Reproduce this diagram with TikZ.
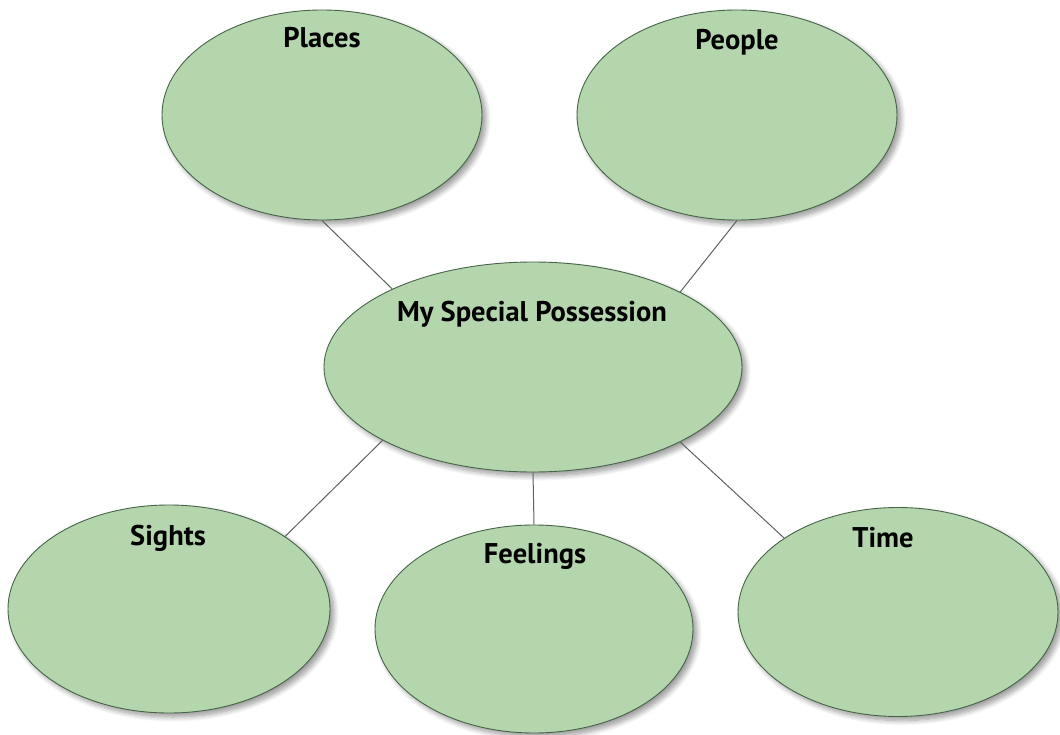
\documentclass[tikz,border=0pt]{standalone}
\usepackage{fontspec}
\setmainfont{PT Sans}
\usetikzlibrary{shapes.geometric,shadows.blur}
\definecolor{bubblefill}{RGB}{180,214,172}
\definecolor{bubbleline}{RGB}{70,100,72}
\definecolor{linkgray}{RGB}{90,100,94}
\tikzset{
  bubble/.style={ellipse, draw=bubbleline, line width=0.9pt, fill=bubblefill, inner sep=0pt,
    blur shadow={shadow xshift=4pt, shadow yshift=-4pt, shadow blur radius=5pt, shadow blur steps=8, shadow opacity=40}},
  title/.style={font=\fontsize{28.5}{32}\selectfont\bfseries, text=black, anchor=base, inner sep=0pt},
  link/.style={draw=linkgray, line width=1pt}
}
\begin{document}
\begin{tikzpicture}[x=1pt,y=-1pt]
\useasboundingbox (0,0) rectangle (1060,735);
\node[bubble, minimum width=320pt, minimum height=210pt] (places) at (322,115) {};
\node[bubble, minimum width=320pt, minimum height=210pt] (people) at (737,115) {};
\node[bubble, minimum width=418pt, minimum height=210pt] (center) at (533,367) {};
\node[bubble, minimum width=322pt, minimum height=208pt] (sights) at (169,609) {};
\node[bubble, minimum width=318pt, minimum height=208pt] (feelings) at (534,629) {};
\node[bubble, minimum width=320pt, minimum height=209pt] (time) at (898,612) {};
\node[title] (placesT) at (322,48) {Places};
\node[title] (peopleT) at (737,50) {People};
\node[title] (centerT) at (532,322) {My Special Possession};
\node[title] (sightsT) at (168,545) {Sights};
\node[title] (feelingsT) at (535,563) {Feelings};
\node[title] (timeT) at (883,547) {Time};
\draw[link] (places.south) -- (center.151);
\draw[link] (people.south) -- (center.27);
\draw[link] (center.206) -- (sights.32);
\draw[link] (center.south) -- (feelings.north);
\draw[link] (center.-27) -- (time.147);
\end{tikzpicture}
\end{document}
